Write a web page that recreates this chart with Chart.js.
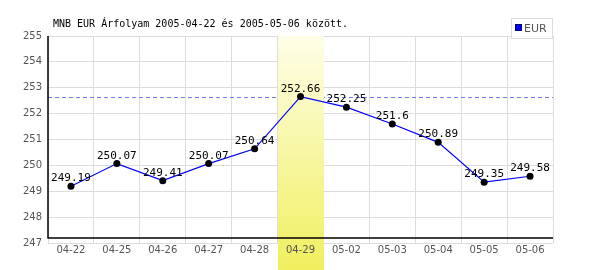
<!DOCTYPE html>
<html>
<head>
<meta charset="utf-8">
<script src="https://cdn.jsdelivr.net/npm/chart.js@4/dist/chart.umd.min.js"></script>
<style>
  html, body { margin: 0; padding: 0; background: #fff; }
  #wrap { width: 600px; height: 270px; }
</style>
</head>
<body>
<div id="wrap"><canvas id="chart" width="600" height="270"></canvas></div>
<script>
// data
const titleText = 'MNB EUR Árfolyam 2005-04-22 és 2005-05-06 között.';
const seriesName = 'EUR';
const days = ['04-22','04-25','04-26','04-27','04-28','04-29','05-02','05-03','05-04','05-05','05-06'];
const rates = [249.19, 250.07, 249.41, 250.07, 250.64, 252.66, 252.25, 251.6, 250.89, 249.35, 249.58];
const yMin = 247;
const yMax = 255;

const maxIdx = rates.indexOf(Math.max(...rates));

// extra drawing: dashed max line, yellow column, axes, labels, title, legend
const decor = {
  id: 'decor',
  beforeDatasetsDraw(chart) {
    const ctx = chart.ctx;
    const a = chart.chartArea;
    const x = chart.scales.x, y = chart.scales.y;
    ctx.save();
    // dashed line at the max value
    const my = Math.round(y.getPixelForValue(rates[maxIdx])) + 0.5;
    ctx.strokeStyle = '#7878ff';
    ctx.lineWidth = 1;
    ctx.setLineDash([4, 3]);
    ctx.beginPath();
    ctx.moveTo(a.left, my);
    ctx.lineTo(a.right, my);
    ctx.stroke();
    ctx.setLineDash([]);
    // highlighted column
    const cw = (a.right - a.left) / days.length;
    const cx = x.getPixelForValue(maxIdx) - cw / 2;
    const g = ctx.createLinearGradient(0, a.top, 0, chart.height);
    g.addColorStop(0, '#fefee8');
    g.addColorStop(1, '#f0ef5e');
    ctx.fillStyle = g;
    ctx.fillRect(Math.round(cx), a.top, Math.round(cw), chart.height - a.top);
    // black axes
    ctx.strokeStyle = '#000';
    ctx.lineWidth = 1.5;
    ctx.beginPath();
    ctx.moveTo(a.left, a.top);
    ctx.lineTo(a.left, a.bottom - 5);
    ctx.lineTo(a.right, a.bottom - 5);
    ctx.stroke();
    ctx.restore();
  },
  afterDatasetsDraw(chart) {
    const ctx = chart.ctx;
    const meta = chart.getDatasetMeta(0);
    ctx.save();
    ctx.fillStyle = '#000';
    ctx.font = '11px "DejaVu Sans Mono", monospace';
    ctx.textAlign = 'center';
    ctx.textBaseline = 'alphabetic';
    meta.data.forEach((p, i) => {
      ctx.fillText(String(rates[i]), p.x, p.y - 5);
    });
    ctx.restore();
  },
  afterDraw(chart) {
    const ctx = chart.ctx;
    ctx.save();
    // title
    ctx.fillStyle = '#000';
    ctx.font = '10px "DejaVu Sans Mono", monospace';
    ctx.textAlign = 'left';
    ctx.textBaseline = 'alphabetic';
    ctx.fillText(titleText, 53, 26.5);
    // legend
    ctx.fillStyle = '#fff';
    ctx.fillRect(511.5, 18.5, 41, 20);
    ctx.strokeStyle = '#dddddd';
    ctx.lineWidth = 1;
    ctx.strokeRect(511.5, 18.5, 41, 20);
    ctx.fillStyle = '#0000ff';
    ctx.fillRect(516, 25, 6, 6);
    ctx.strokeStyle = '#000066';
    ctx.strokeRect(515.5, 24.5, 6, 6);
    ctx.fillStyle = '#555';
    ctx.font = '11px "DejaVu Sans", sans-serif';
    ctx.fillText(seriesName, 524, 32);
    ctx.restore();
  }
};

new Chart(document.getElementById('chart'), {
  type: 'line',
  data: {
    labels: days,
    datasets: [{
      label: seriesName,
      data: rates,
      borderColor: '#0000ff',
      borderWidth: 1.2,
      pointRadius: 3.5,
      pointBackgroundColor: '#000',
      pointBorderColor: '#000',
      pointBorderWidth: 0,
      tension: 0
    }]
  },
  options: {
    responsive: false,
    animation: false,
    events: [],
    layout: { padding: { left: 0, right: 47, top: 36, bottom: 0 } },
    plugins: {
      legend: { display: false },
      title: { display: false },
      tooltip: { enabled: false }
    },
    scales: {
      x: {
        offset: true,
        grid: { offset: true, color: '#dddddd', drawTicks: false },
        border: { display: false },
        ticks: {
          z: 1,
          color: '#555',
          padding: 1,
          maxRotation: 0,
          autoSkip: false,
          font: { family: '"DejaVu Sans", sans-serif', size: 10 }
        },
        afterFit(s) { s.height = 27; }
      },
      y: {
        min: yMin,
        max: yMax,
        grid: { color: '#dddddd', drawTicks: false },
        border: { display: false },
        ticks: {
          stepSize: 1,
          color: '#555',
          padding: 6,
          font: { family: '"DejaVu Sans", sans-serif', size: 10 }
        },
        afterFit(s) { s.width = 48; }
      }
    }
  },
  plugins: [decor]
});
</script>
</body>
</html>
